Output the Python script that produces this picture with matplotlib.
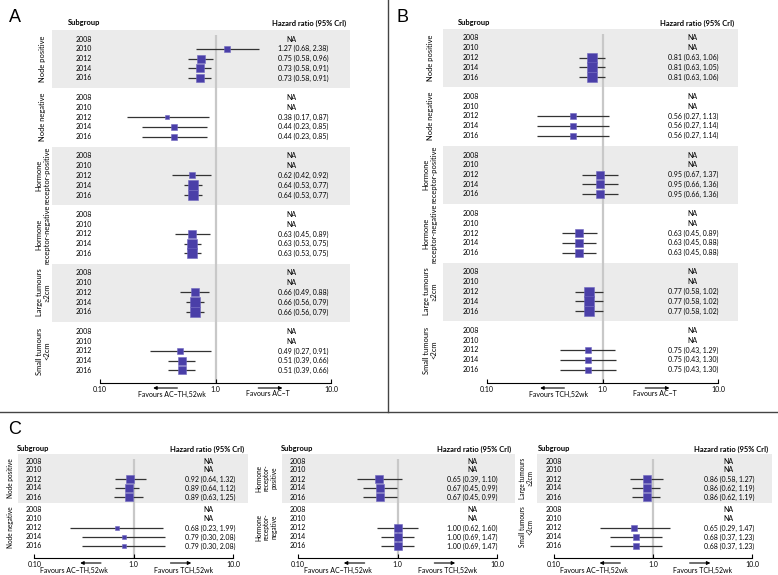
import numpy as np
import matplotlib
matplotlib.use('Agg')
import matplotlib.pyplot as plt
from matplotlib.transforms import Affine2D, blended_transform_factory
from matplotlib.lines import Line2D

plt.rcParams['font.family'] = ['Lato', 'DejaVu Sans']

years = ['2008', '2010', '2012', '2014', '2016']

# ---- panel A : AC-TH,52wk vs AC-T
a_groups = ['Node positive', 'Node negative', 'Hormone\nreceptor-positive',
            'Hormone\nreceptor-negative', 'Large tumours\n\u22652cm', 'Small tumours\n<2cm']
a_hr = [[None, 1.27, 0.75, 0.73, 0.73], [None, None, 0.38, 0.44, 0.44], [None, None, 0.62, 0.64, 0.64],
        [None, None, 0.63, 0.63, 0.63], [None, None, 0.66, 0.66, 0.66], [None, None, 0.49, 0.51, 0.51]]
a_lo = [[None, 0.68, 0.58, 0.58, 0.58], [None, None, 0.17, 0.23, 0.23], [None, None, 0.42, 0.53, 0.53],
        [None, None, 0.45, 0.53, 0.53], [None, None, 0.49, 0.56, 0.56], [None, None, 0.27, 0.39, 0.39]]
a_hi = [[None, 2.38, 0.96, 0.91, 0.91], [None, None, 0.87, 0.85, 0.85], [None, None, 0.92, 0.77, 0.77],
        [None, None, 0.89, 0.75, 0.75], [None, None, 0.88, 0.79, 0.79], [None, None, 0.91, 0.66, 0.66]]

# ---- panel B : TCH,52wk vs AC-T
b_groups = a_groups
b_hr = [[None, None, 0.81, 0.81, 0.81], [None, None, 0.56, 0.56, 0.56], [None, None, 0.95, 0.95, 0.95],
        [None, None, 0.63, 0.63, 0.63], [None, None, 0.77, 0.77, 0.77], [None, None, 0.75, 0.75, 0.75]]
b_lo = [[None, None, 0.63, 0.63, 0.63], [None, None, 0.27, 0.27, 0.27], [None, None, 0.67, 0.66, 0.66],
        [None, None, 0.45, 0.45, 0.45], [None, None, 0.58, 0.58, 0.58], [None, None, 0.43, 0.43, 0.43]]
b_hi = [[None, None, 1.06, 1.05, 1.06], [None, None, 1.13, 1.14, 1.14], [None, None, 1.37, 1.36, 1.36],
        [None, None, 0.89, 0.88, 0.88], [None, None, 1.02, 1.02, 1.02], [None, None, 1.29, 1.30, 1.30]]

# ---- panel C : AC-TH,52wk vs TCH,52wk (three sub-panels)
c1_groups = ['Node positive', 'Node negative']
c1_hr = [[None, None, 0.92, 0.89, 0.89], [None, None, 0.68, 0.79, 0.79]]
c1_lo = [[None, None, 0.64, 0.64, 0.63], [None, None, 0.23, 0.30, 0.30]]
c1_hi = [[None, None, 1.32, 1.12, 1.25], [None, None, 1.99, 2.08, 2.08]]

c2_groups = ['Hormone\nreceptor-\npositive', 'Hormone\nreceptor-\nnegative']
c2_hr = [[None, None, 0.65, 0.67, 0.67], [None, None, 1.00, 1.00, 1.00]]
c2_lo = [[None, None, 0.39, 0.45, 0.45], [None, None, 0.62, 0.69, 0.69]]
c2_hi = [[None, None, 1.10, 0.99, 0.99], [None, None, 1.60, 1.47, 1.47]]

c3_groups = ['Large tumours\n\u22652cm', 'Small tumours\n<2cm']
c3_hr = [[None, None, 0.86, 0.86, 0.86], [None, None, 0.65, 0.68, 0.68]]
c3_lo = [[None, None, 0.58, 0.62, 0.62], [None, None, 0.29, 0.37, 0.37]]
c3_hi = [[None, None, 1.27, 1.19, 1.19], [None, None, 1.47, 1.23, 1.23]]

W, H = 778, 575
fig = plt.figure(figsize=(W / 100, H / 100), dpi=100)
px = Affine2D().scale(1, -1).translate(0, H).scale(0.01) + fig.dpi_scale_trans
px_x = Affine2D().scale(0.01) + fig.dpi_scale_trans

SHADE = '#ebebeb'
MARK = '#4a3fa8'
FS = 5.0


def forest(groups, hr, lo, hi, fav_left, fav_right, lay):
    sx0, sx1 = lay['shade']
    p01, p10 = lay['p01'], lay['p10']
    y0, rpx, period, tpad, yax = lay['y0'], lay['row'], lay['period'], lay['tpad'], lay['yax']
    top_px = y0 + tpad * rpx
    ax = fig.add_axes([sx0 / W, 1 - yax / H, (sx1 - sx0) / W, (yax - top_px) / H])
    dec = (p10 - p01) / 2
    ax.set_xscale('log')
    ax.set_xlim(10 ** (-1 - (p01 - sx0) / dec), 10 ** (1 + (sx1 - p10) / dec))
    ybot = (yax - y0) / rpx
    ax.set_ylim(ybot, tpad)
    ax.set_facecolor('none')
    for s in ['left', 'top', 'right']:
        ax.spines[s].set_visible(False)
    ax.spines['bottom'].set_bounds(0.1, 10)
    ax.spines['bottom'].set_linewidth(0.8)
    ax.set_xticks([0.1, 1, 10])
    ax.set_xticklabels(['0.10', '1.0', '10.0'])
    ax.minorticks_off()
    ax.tick_params(axis='x', direction='in', length=3, width=0.8, pad=2, labelsize=FS)
    ax.set_yticks([])

    tr = blended_transform_factory(px_x, ax.transData)

    # weights for square size
    inv = []
    for g in range(len(groups)):
        for r in range(5):
            if hr[g][r] is not None:
                inv.append(1 / np.log(hi[g][r] / lo[g][r]))
    maxinv = max(inv)

    for g in range(len(groups)):
        base = g * period
        if g % 2 == 0:
            ax.axhspan(base + tpad, base + tpad + period, color=SHADE, lw=0, zorder=0)
        ax.text(lay['glab'], base + lay['gmid'], groups[g], transform=tr, rotation=90, ha='center',
                va='center', multialignment='center', fontsize=lay['gfs'], linespacing=1.1)
        for r in range(5):
            y = base + r
            ax.text(lay['year'], y, years[r], transform=tr, ha='left', va='center', fontsize=FS)
            if hr[g][r] is None:
                ax.text(lay['na'], y, 'NA', transform=tr, ha='center', va='center', fontsize=FS)
                continue
            lbl = '%.2f (%.2f, %.2f)' % (hr[g][r], lo[g][r], hi[g][r])
            ax.text(lay['val'], y, lbl, transform=tr, ha='left', va='center', fontsize=FS)
            ax.hlines(y, lo[g][r], hi[g][r], color='#333333', lw=0.9, zorder=2)
            size = lay['msmax'] * np.sqrt((1 / np.log(hi[g][r] / lo[g][r])) / maxinv)
            ax.plot(hr[g][r], y, 's', color=MARK, ms=size * 0.72, mec='#7068c0', mew=0.4, zorder=3)

    ax.vlines(1, lay['vtop'], ybot, color='#c8c8c8', lw=1.6, zorder=1)

    # headers
    fig.text(lay['sub'], lay['head'], 'Subgroup', transform=px, ha='left', va='center',
             fontsize=FS + 0.4, fontweight='bold')
    fig.text(sx1 - 4, lay['head'], 'Hazard ratio (95% CrI)', transform=px, ha='right', va='center',
             fontsize=FS + 0.4, fontweight='bold')

    # favours arrows
    atr = ax.get_xaxis_transform() + Affine2D().translate(0, -5)
    ax.annotate('', xy=(10 ** -0.54, 0), xytext=(10 ** -0.33, 0), xycoords=atr, textcoords=atr,
                arrowprops=dict(arrowstyle='-|>', lw=0.8, color='black', mutation_scale=5,
                                shrinkA=0, shrinkB=0))
    ax.annotate('', xy=(10 ** 0.58, 0), xytext=(10 ** 0.37, 0), xycoords=atr, textcoords=atr,
                arrowprops=dict(arrowstyle='-|>', lw=0.8, color='black', mutation_scale=5,
                                shrinkA=0, shrinkB=0))
    ttr = ax.get_xaxis_transform() + Affine2D().translate(0, -lay['favy'])
    ax.text(10 ** lay['lfav'], 0, fav_left, transform=ttr, ha='center', va='center', fontsize=FS)
    ax.text(10 ** lay['rfav'], 0, fav_right, transform=ttr, ha='center', va='center', fontsize=FS)
    return ax


lay_a = dict(shade=(52, 350), p01=100, p10=331, y0=39, row=9.75, period=6, tpad=-0.93, yax=383,
             vtop=-0.4, year=76, val=278, na=291, glab=43, gmid=2, gfs=FS + 0.4, sub=68, head=23,
             msmax=10, lfav=-0.38, rfav=0.45, favy=11)
lay_b = dict(lay_a, shade=(443, 738), p01=487, p10=718, y0=38, year=463, val=668, na=692,
             glab=430, sub=458)
lay_c1 = dict(shade=(18, 248), p01=34.5, p10=233, y0=461, row=9, period=5.44, tpad=-0.78, yax=558,
              vtop=-0.2, year=26, val=185, na=208, glab=11, gmid=1.9, gfs=FS - 0.3, sub=17, head=449,
              msmax=8.5, lfav=-0.6, rfav=0.5, favy=12)
lay_c2 = dict(lay_c1, shade=(282, 515), p01=298, p10=497, year=290, val=447, na=472, glab=266, sub=281)
lay_c3 = dict(lay_c1, shade=(537, 772), p01=554, p10=752, year=546, val=704, na=728, glab=526, sub=538)

forest(a_groups, a_hr, a_lo, a_hi, 'Favours AC\u2212TH,52wk', 'Favours AC\u2212T', lay_a)
forest(b_groups, b_hr, b_lo, b_hi, 'Favours TCH,52wk', 'Favours AC\u2212T', lay_b)
forest(c1_groups, c1_hr, c1_lo, c1_hi, 'Favours AC\u2212TH,52wk', 'Favours TCH,52wk', lay_c1)
forest(c2_groups, c2_hr, c2_lo, c2_hi, 'Favours AC\u2212TH,52wk', 'Favours TCH,52wk', lay_c2)
forest(c3_groups, c3_hr, c3_lo, c3_hi, 'Favours AC\u2212TH,52wk', 'Favours TCH,52wk', lay_c3)

# panel letters and dividers
for letter, x, y in [('A', 15, 18), ('B', 402, 18), ('C', 15, 430)]:
    fig.text(x, y, letter, transform=px, ha='center', va='center', fontsize=13,
             family=['Liberation Sans', 'DejaVu Sans'])
fig.add_artist(Line2D([388, 388], [0, 412], transform=px, color='#444444', lw=1))
fig.add_artist(Line2D([0, W], [412, 412], transform=px, color='#444444', lw=1))

fig.savefig('out.png', dpi=100)
